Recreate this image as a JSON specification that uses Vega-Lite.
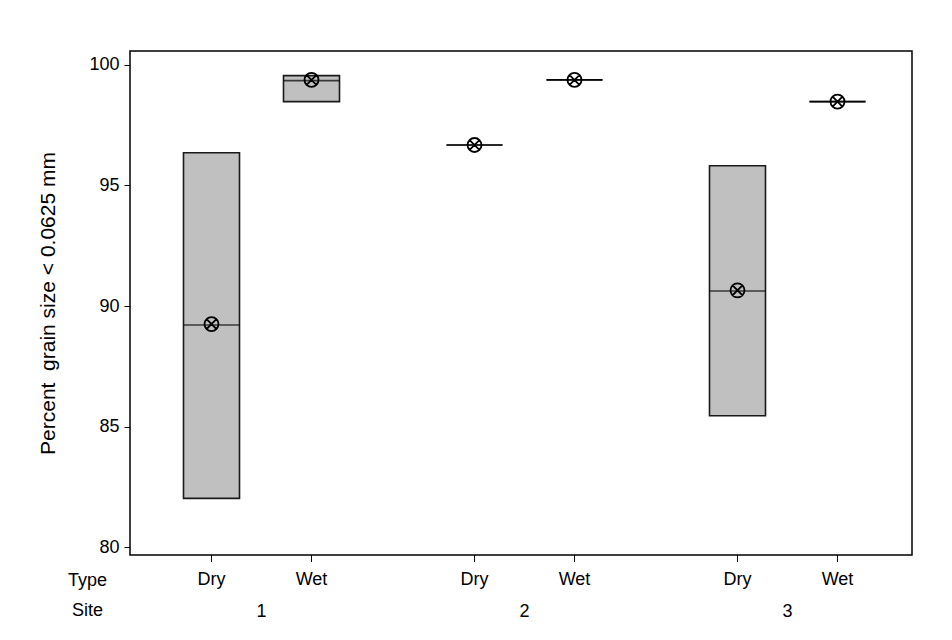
{
  "$schema": "https://vega.github.io/schema/vega-lite/v6.json",
  "width": 782,
  "height": 504,
  "autosize": {"type": "none"},
  "padding": {"left": 130, "top": 51, "right": 40, "bottom": 85},
  "background": "white",
  "config": {
    "font": "Liberation Sans",
    "view": {"stroke": "black", "strokeWidth": 1.5}
  },
  "data": {
    "values": [
      {"site": "1", "type": "Dry", "q1": 82.02, "median": 89.21, "q3": 96.36, "mean": 89.25},
      {"site": "1", "type": "Wet", "q1": 98.48, "median": 99.35, "q3": 99.56, "mean": 99.38},
      {"site": "2", "type": "Dry", "q1": 96.68, "median": 96.68, "q3": 96.68, "mean": 96.68},
      {"site": "2", "type": "Wet", "q1": 99.38, "median": 99.38, "q3": 99.38, "mean": 99.38},
      {"site": "3", "type": "Dry", "q1": 85.45, "median": 90.62, "q3": 95.82, "mean": 90.65},
      {"site": "3", "type": "Wet", "q1": 98.48, "median": 98.48, "q3": 98.48, "mean": 98.48}
    ]
  },
  "encoding": {
    "x": {
      "field": "site",
      "type": "nominal",
      "scale": {"range": [0, 789], "paddingInner": 0, "paddingOuter": 0},
      "axis": {
        "title": ["Type", "Site"],
        "labelPadding": 47,
        "ticks": false,
        "domain": false,
        "labelAngle": 0,
        "labelFontSize": 18,
        "labelColor": "black",
        "titleFontSize": 18,
        "titleFontWeight": "normal",
        "titleColor": "black",
        "titleAlign": "center",
        "titleX": -43,
        "titleY": 16,
        "titleBaseline": "top",
        "titleLineHeight": 30
      }
    },
    "xOffset": {
      "field": "type",
      "type": "nominal",
      "scale": {"paddingInner": 0, "paddingOuter": 0.315}
    }
  },
  "layer": [
    {
      "mark": {"type": "bar", "width": 56, "fill": "#c0c0c0", "stroke": "#1a1a1a", "strokeWidth": 1.6},
      "encoding": {
        "y": {
          "field": "q1",
          "type": "quantitative",
          "scale": {"domain": [79.67, 100.58], "nice": false, "zero": false},
          "axis": {
            "values": [80, 85, 90, 95, 100],
            "title": "Percent\u00a0 grain size < 0.0625 mm",
            "grid": false,
            "domain": false,
            "tickColor": "black",
            "tickSize": 6,
            "labelPadding": 5,
            "labelFontSize": 18,
            "labelColor": "black",
            "titleFontSize": 21,
            "titleFontWeight": "normal",
            "titleColor": "black",
            "titlePadding": 30
          }
        },
        "y2": {"field": "q3"}
      }
    },
    {
      "mark": {"type": "tick", "orient": "horizontal", "size": 56, "thickness": 1.6, "color": "black"},
      "encoding": {"y": {"field": "median", "type": "quantitative"}}
    },
    {
      "mark": {"type": "point", "shape": "M1,0A1,1,0,1,1,-1,0A1,1,0,1,1,1,0ZM-0.7,-0.7L0.7,0.7M-0.7,0.7L0.7,-0.7", "size": 196, "filled": false, "stroke": "black", "strokeWidth": 1.8, "opacity": 1},
      "encoding": {"y": {"field": "mean", "type": "quantitative"}}
    },
    {
      "mark": {"type": "point", "shape": "M0,0L0,1", "size": 196, "filled": false, "stroke": "black", "strokeWidth": 1, "opacity": 1, "clip": false},
      "encoding": {"y": {"value": "height"}}
    },
    {
      "mark": {"type": "text", "baseline": "top", "dy": 16, "fontSize": 18, "color": "black"},
      "encoding": {"y": {"value": "height"}, "text": {"field": "type"}}
    }
  ]
}
